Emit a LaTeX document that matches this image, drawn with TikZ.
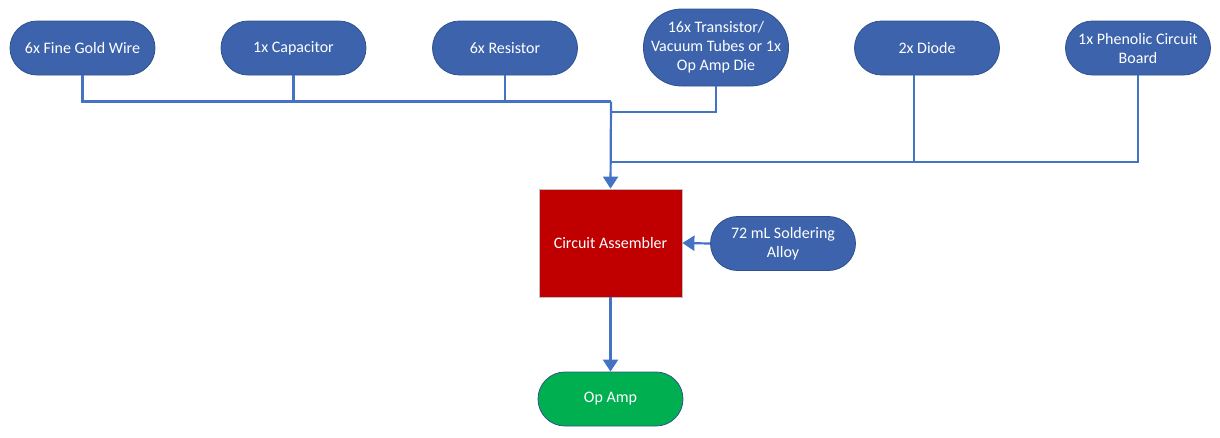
\documentclass[tikz,border=0pt]{standalone}
\usepackage{fontspec}
\setmainfont{Carlito}
\usetikzlibrary{arrows.meta}
\definecolor{nodeblue}{HTML}{3C63AB}
\definecolor{nodeedge}{HTML}{2F528F}
\definecolor{linkblue}{HTML}{4472C4}
\definecolor{asmred}{HTML}{C00000}
\definecolor{outgreen}{HTML}{00B050}
\tikzset{
  pill/.style={draw=nodeedge, line width=0.8pt, fill=nodeblue, text=white, align=center,
    minimum width=145pt, minimum height=54pt, rounded corners=27pt, inner sep=2pt,
    font=\fontsize{16}{19}\selectfont},
  tallpill/.style={pill, minimum height=77pt, rounded corners=38pt},
  conn/.style={draw=linkblue, line width=2.2pt},
  arr/.style={conn, -{Triangle[width=15pt,length=12pt]}}
}
\begin{document}
\begin{tikzpicture}[x=1pt,y=-1pt]
\useasboundingbox (0,0) rectangle (1220,437);
\node[pill] (n1) at (82.5,48) {6x Fine Gold Wire};
\node[pill] (n2) at (293.5,48) {1x Capacitor};
\node[pill] (n3) at (505,48) {6x Resistor};
\node[tallpill] (n4) at (716,47.5) {16x Transistor/\\Vacuum Tubes or 1x\\Op Amp Die};
\node[pill] (n5) at (927,48) {2x Diode};
\node[pill] (n6) at (1138,48) {1x Phenolic Circuit\\Board};
\node[draw=black!25, line width=0.8pt, fill=asmred, text=white, minimum width=143pt, minimum height=108pt,
  font=\fontsize{16}{19}\selectfont] (ca) at (610.5,243) {Circuit Assembler};
\node[pill] (sa) at (783,243.5) {72 mL Soldering\\Alloy};
\node[pill, fill=outgreen] (oa) at (610.5,399) {Op Amp};
\coordinate (j1) at (611,101.5);
\coordinate (j2) at (611,112);
\coordinate (j3) at (611,162);
\draw[conn] (n1.south) |- (j1);
\draw[conn] (n2.south) -- (n2.south |- j1);
\draw[conn] (n3.south) -- (n3.south |- j1);
\draw[conn] (n4.south) |- (j2);
\draw[conn] ([xshift=-13pt]n5.south) -- ([xshift=-13pt]n5.south |- j3);
\draw[conn] (n6.south) |- (j3);
\draw[arr] (j1) -- (ca.north);
\draw[arr] (sa.west) -- (ca.east);
\draw[arr] (ca.south) -- (oa.north);
\end{tikzpicture}
\end{document}
